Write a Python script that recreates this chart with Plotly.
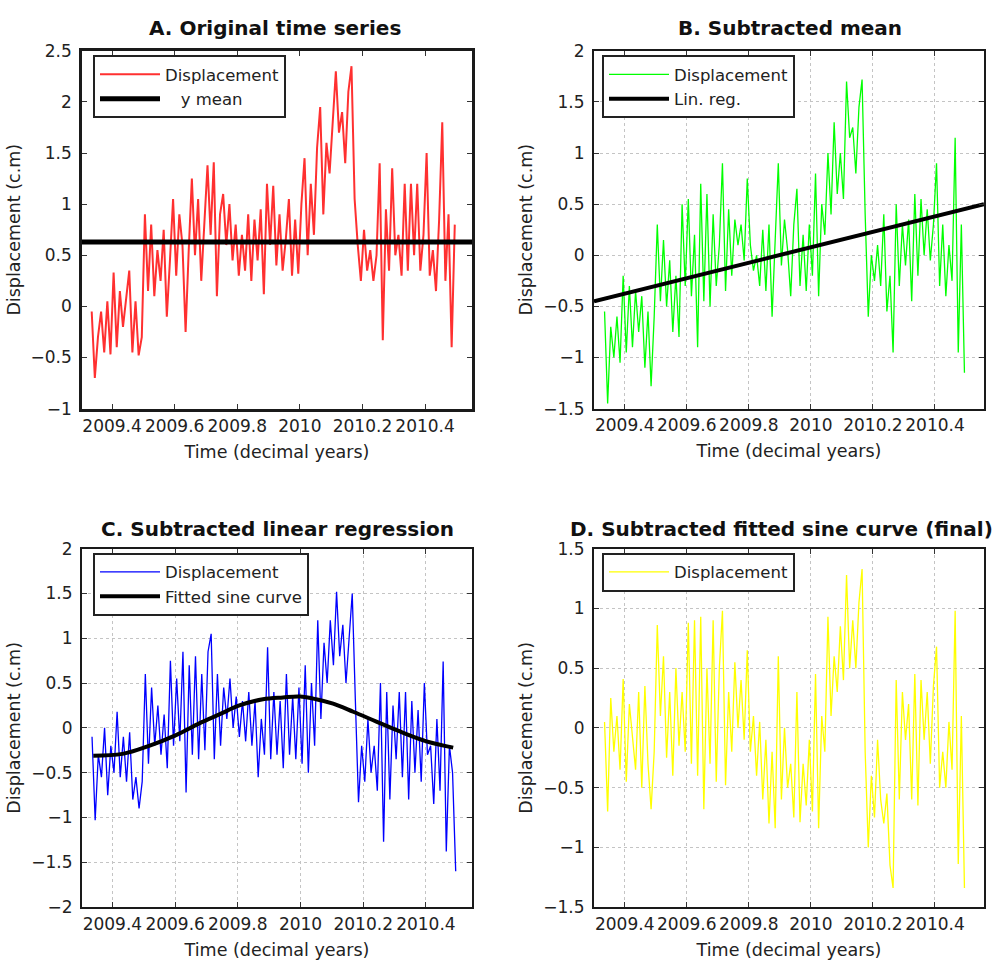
import plotly.graph_objects as go

# Sampling times (decimal years)
TIME = [
    2009.335, 2009.345, 2009.355, 2009.365, 2009.375, 2009.385, 2009.395, 2009.405, 2009.415, 2009.425,
    2009.435, 2009.445, 2009.455, 2009.465, 2009.475, 2009.485, 2009.495, 2009.505, 2009.515, 2009.525,
    2009.535, 2009.545, 2009.555, 2009.565, 2009.575, 2009.585, 2009.595, 2009.605, 2009.615, 2009.625,
    2009.635, 2009.645, 2009.655, 2009.665, 2009.675, 2009.685, 2009.695, 2009.705, 2009.715, 2009.725,
    2009.735, 2009.745, 2009.755, 2009.765, 2009.775, 2009.785, 2009.795, 2009.805, 2009.815, 2009.825,
    2009.835, 2009.845, 2009.855, 2009.865, 2009.875, 2009.885, 2009.895, 2009.905, 2009.915, 2009.925,
    2009.935, 2009.945, 2009.955, 2009.965, 2009.975, 2009.985, 2009.995, 2010.005, 2010.015, 2010.025,
    2010.035, 2010.045, 2010.055, 2010.065, 2010.075, 2010.085, 2010.095, 2010.105, 2010.115, 2010.125,
    2010.135, 2010.145, 2010.155, 2010.165, 2010.175, 2010.185, 2010.195, 2010.205, 2010.215, 2010.225,
    2010.235, 2010.245, 2010.255, 2010.265, 2010.275, 2010.285, 2010.295, 2010.305, 2010.315, 2010.325,
    2010.335, 2010.345, 2010.355, 2010.365, 2010.375, 2010.385, 2010.395, 2010.405, 2010.415, 2010.425,
    2010.435, 2010.445, 2010.455, 2010.465, 2010.475, 2010.485, 2010.495,
]

# A. original displacement (cm)
DISP_ORIG = [
    -0.05, -0.70, -0.30, -0.05, -0.45, 0.05, -0.47, 0.33, -0.40, 0.15,
    -0.20, 0.10, 0.35, -0.45, 0.05, -0.48, -0.30, 0.90, 0.15, 0.80,
    0.10, 0.55, 0.25, 0.75, -0.10, 0.45, 1.05, 0.30, 0.90, 0.60,
    -0.25, 0.55, 1.25, 0.50, 1.05, 0.25, 0.85, 1.38, 0.70, 1.41,
    0.10, 0.90, 1.10, 0.60, 1.00, 0.45, 0.80, 0.30, 0.70, 0.35,
    0.90, 0.25, 0.85, 0.45, 0.95, 0.12, 1.20, 0.60, 1.18, 0.40,
    0.90, 0.35, 0.65, 1.05, 0.30, 0.85, 0.32, 1.00, 1.45, 0.50,
    1.20, 0.70, 1.55, 1.95, 0.90, 1.60, 1.30, 1.80, 2.30, 1.70,
    1.90, 1.40, 2.10, 2.35, 1.05, 0.60, 0.25, 0.75, 0.35, 0.55,
    0.25, 0.50, 1.40, -0.33, 0.95, 0.35, 1.35, 0.50, 0.70, 0.30,
    1.20, 0.35, 1.20, 0.50, 1.20, 0.35, 0.70, 1.50, 0.30, 0.55,
    0.15, 0.85, 1.80, 0.25, 0.90, -0.40, 0.80,
]
Y_MEAN = 0.63

# B. mean removed
DISP_DEMEAN = [
    -0.55, -1.45, -0.70, -1.00, -0.60, -1.05, -0.20, -0.95, -0.30, -0.90,
    -0.35, -0.75, -0.40, -1.10, -0.55, -1.28, -0.60, 0.30, -0.45, 0.15,
    -0.50, -0.05, -0.75, -0.20, -0.80, 0.50, -0.30, 0.55, -0.40, 0.20,
    -0.90, 0.70, -0.45, 0.60, -0.50, 0.40, -0.30, 0.10, 0.90, -0.35,
    0.45, -0.20, 0.35, 0.10, 0.30, -0.05, 0.75, 0.10, -0.15, 0.00,
    -0.30, 0.25, -0.35, 0.30, -0.60, 0.20, 0.90, -0.10, 0.35, 0.05,
    -0.40, 0.30, 0.65, -0.30, 0.20, -0.35, 0.30, -0.20, 0.80, -0.40,
    0.50, 0.20, 1.00, 0.40, 1.30, 0.60, 1.00, 0.55, 1.70, 1.15,
    1.25, 0.80, 1.45, 1.72, 0.40, -0.60, 0.00, -0.25, 0.10, -0.30,
    0.40, -0.55, -0.20, -0.95, 0.50, -0.30, 0.30, -0.10, 0.35, -0.45,
    0.60, -0.20, 0.55, 0.00, 0.45, -0.05, 0.30, 0.90, -0.30, 0.30,
    -0.40, 0.10, -0.25, 1.15, -0.95, 0.30, -1.15,
]
LINREG_T = [2009.301, 2010.558]
LINREG_Y = [-0.45, 0.50]

# C. linear trend removed
DISP_DETREND = [
    -0.10, -1.03, -0.30, -0.55, 0.00, -0.75, -0.20, -0.50, 0.18, -0.55,
    -0.10, -0.60, -0.05, -0.80, -0.55, -0.90, -0.60, 0.60, -0.40, 0.45,
    -0.20, 0.25, -0.30, 0.15, -0.45, 0.75, -0.20, 0.55, -0.15, 0.85,
    -0.72, 0.70, -0.30, 0.80, -0.35, 0.60, -0.25, 0.85, 1.05, -0.35,
    0.60, -0.20, 0.45, 0.10, 0.55, 0.00, 0.35, -0.10, 0.30, -0.15,
    0.40, -0.20, 0.30, -0.55, 0.10, -0.30, 0.90, -0.35, 0.40, -0.30,
    0.30, -0.45, 0.60, -0.30, 0.35, -0.35, 0.45, -0.40, 0.70, -0.50,
    0.50, -0.20, 1.20, 0.10, 0.95, 0.50, 1.20, 0.70, 1.52, 0.80,
    1.15, 0.50, 1.00, 1.50, 0.30, -0.83, -0.20, -0.60, 0.10, -0.50,
    -0.20, -0.70, 0.50, -1.27, 0.40, -0.80, 0.25, -0.35, 0.40, -0.55,
    0.40, -0.80, 0.30, -0.50, 0.20, -0.60, 0.50, -0.30, -0.20, -0.85,
    0.10, -0.70, 0.74, -1.38, -0.20, -0.50, -1.60,
]
SINE_T = [2009.339, 2009.432, 2009.517, 2009.603, 2009.677, 2009.741, 2009.805,
          2009.880, 2009.944, 2009.997, 2010.050, 2010.104, 2010.168, 2010.242,
          2010.317, 2010.402, 2010.487]
SINE_Y = [-0.31, -0.29, -0.20, -0.08, 0.05, 0.15, 0.25,
          0.32, 0.34, 0.35, 0.32, 0.27, 0.18, 0.07,
          -0.04, -0.15, -0.22]

# D. seasonal sine removed (final residual)
DISP_FINAL = [
    0.05, -0.70, 0.25, -0.20, 0.10, -0.35, 0.41, -0.45, 0.20, -0.10,
    -0.35, 0.30, -0.50, 0.35, -0.30, -0.68, -0.20, 0.86, 0.10, 0.60,
    -0.25, 0.30, -0.40, 0.50, -0.15, 0.30, -0.20, 0.88, -0.30, 0.90,
    -0.40, 0.93, -0.68, 0.50, -0.30, 0.90, -0.45, 0.50, 0.98, -0.48,
    0.30, -0.20, 0.55, 0.00, 0.40, -0.10, 0.65, -0.20, 0.10, -0.40,
    0.05, -0.60, -0.10, -0.80, -0.20, -0.84, 0.60, -0.60, 0.00, -0.50,
    -0.30, -0.75, 0.30, -0.79, -0.30, -0.65, -0.10, -0.70, 0.45, -0.84,
    0.10, -0.20, 0.93, 0.10, 0.60, 0.30, 0.85, 0.40, 1.28, 0.50,
    0.90, 0.50, 1.05, 1.33, -0.20, -1.00, -0.40, -0.75, -0.10, -0.60,
    -0.80, -0.55, -1.15, -1.34, 0.40, -0.60, 0.30, -0.10, 0.20, -0.60,
    0.45, -0.65, 0.40, -0.10, 0.30, -0.30, 0.35, 0.68, -0.50, -0.20,
    -0.50, 0.05, -0.35, 0.98, -1.14, 0.10, -1.34,
]

X_TICKS = [2009.4, 2009.6, 2009.8, 2010.0, 2010.2, 2010.4]
X_TICK_TEXT = ["2009.4", "2009.6", "2009.8", "2010", "2010.2", "2010.4"]

FONT = "DejaVu Sans"
TXT = "#222222"
W, H = 998, 970

fig = go.Figure()

# --- traces -------------------------------------------------------------
fig.add_trace(go.Scatter(x=TIME, y=DISP_ORIG, mode="lines", name="Displacement",
                         line=dict(color="#ff3030", width=2),
                         xaxis="x", yaxis="y", legend="legend"))
fig.add_trace(go.Scatter(x=[2009.304, 2010.55], y=[Y_MEAN, Y_MEAN], mode="lines",
                         name="\u00a0\u00a0\u00a0y mean",
                         line=dict(color="black", width=5),
                         xaxis="x", yaxis="y", legend="legend"))

fig.add_trace(go.Scatter(x=TIME, y=DISP_DEMEAN, mode="lines", name="Displacement",
                         line=dict(color="#00ff00", width=1.3),
                         xaxis="x2", yaxis="y2", legend="legend2"))
fig.add_trace(go.Scatter(x=LINREG_T, y=LINREG_Y, mode="lines", name="Lin. reg.",
                         line=dict(color="black", width=4),
                         xaxis="x2", yaxis="y2", legend="legend2"))

fig.add_trace(go.Scatter(x=TIME, y=DISP_DETREND, mode="lines", name="Displacement",
                         line=dict(color="#0000ff", width=1.3),
                         xaxis="x3", yaxis="y3", legend="legend3"))
fig.add_trace(go.Scatter(x=SINE_T, y=SINE_Y, mode="lines", name="Fitted sine curve",
                         line=dict(color="black", width=4, shape="spline"),
                         xaxis="x3", yaxis="y3", legend="legend3"))

fig.add_trace(go.Scatter(x=TIME, y=DISP_FINAL, mode="lines", name="Displacement",
                         line=dict(color="#ffff00", width=1.3),
                         xaxis="x4", yaxis="y4", legend="legend4"))


# --- axes ---------------------------------------------------------------
TICK_FONT = dict(family=FONT, size=17, color=TXT)
LABEL_FONT = dict(family=FONT, size=17.5, color=TXT)


def xaxis(domain, rng, anchor, grid, lw):
    return dict(domain=domain, range=rng, anchor=anchor,
                tickvals=X_TICKS, ticktext=X_TICK_TEXT,
                showline=True, linecolor="#1a1a1a", linewidth=lw, mirror="ticks",
                ticks="inside", ticklen=5, tickcolor="#333",
                tickfont=TICK_FONT, ticklabelstandoff=0,
                showgrid=grid, gridcolor="#c4c4c4", griddash="dot", gridwidth=1,
                zeroline=False,
                title=dict(text="Time (decimal years)", font=LABEL_FONT, standoff=11))


def yaxis(domain, rng, anchor, grid, lw):
    return dict(domain=domain, range=rng, anchor=anchor, dtick=0.5,
                showline=True, linecolor="#1a1a1a", linewidth=lw, mirror="ticks",
                ticks="inside", ticklen=5, tickcolor="#333",
                tickfont=TICK_FONT, ticklabelstandoff=4,
                showgrid=grid, gridcolor="#c4c4c4", griddash="dot", gridwidth=1,
                zeroline=False,
                title=dict(text="Displacement (c.m)", font=LABEL_FONT, standoff=6))


xl = [82 / W, 472 / W]
xr = [594 / W, 984 / W]
yt = [1 - 407 / H, 1 - 41.7 / H]
yb = [1 - 916 / H, 1 - 550 / H]


def legend(x, y):
    return dict(x=x, y=y, xanchor="left", yanchor="top",
                bgcolor="white", bordercolor="#222", borderwidth=2,
                font=dict(family=FONT, size=16.5, color=TXT),
                itemwidth=60, tracegroupgap=0)


def title(text, x, y, anchor="center"):
    return dict(text=f"<b>{text}</b>", x=x, y=y, xref="paper", yref="paper",
                xanchor=anchor, yanchor="middle", showarrow=False,
                font=dict(family=FONT, size=20, color="#111"))


fig.update_layout(
    width=W, height=H, autosize=False,
    margin=dict(l=0, r=0, t=0, b=0),
    paper_bgcolor="white", plot_bgcolor="white",
    showlegend=True,
    xaxis=xaxis(xl, [2009.304, 2010.55], "y", False, 2.5),
    yaxis=yaxis(yt, [-1, 2.5], "x", False, 2.5),
    xaxis2=xaxis(xr, [2009.301, 2010.558], "y2", True, 2),
    yaxis2=yaxis(yt, [-1.5, 2], "x2", True, 2),
    xaxis3=xaxis(xl, [2009.303, 2010.547], "y3", True, 2),
    yaxis3=yaxis(yb, [-2, 2], "x3", True, 2),
    xaxis4=xaxis(xr, [2009.301, 2010.558], "y4", True, 2),
    yaxis4=yaxis(yb, [-1.5, 1.5], "x4", True, 2),
    legend=legend(93 / W, 1 - 46 / H),
    legend2=legend(602 / W, 1 - 46 / H),
    legend3=legend(93 / W, 1 - 554 / H),
    legend4=legend(602 / W, 1 - 554 / H),
    annotations=[
        title("A. Original time series", 275 / W, 1 - 18 / H),
        title("B. Subtracted mean", 790 / W, 1 - 18 / H),
        title("C. Subtracted linear regression", 277 / W, 1 - 530 / H),
        title("D. Subtracted fitted sine curve (final)", 995 / W, 1 - 530 / H, "right"),
    ],
)

fig.write_html("out.html")
